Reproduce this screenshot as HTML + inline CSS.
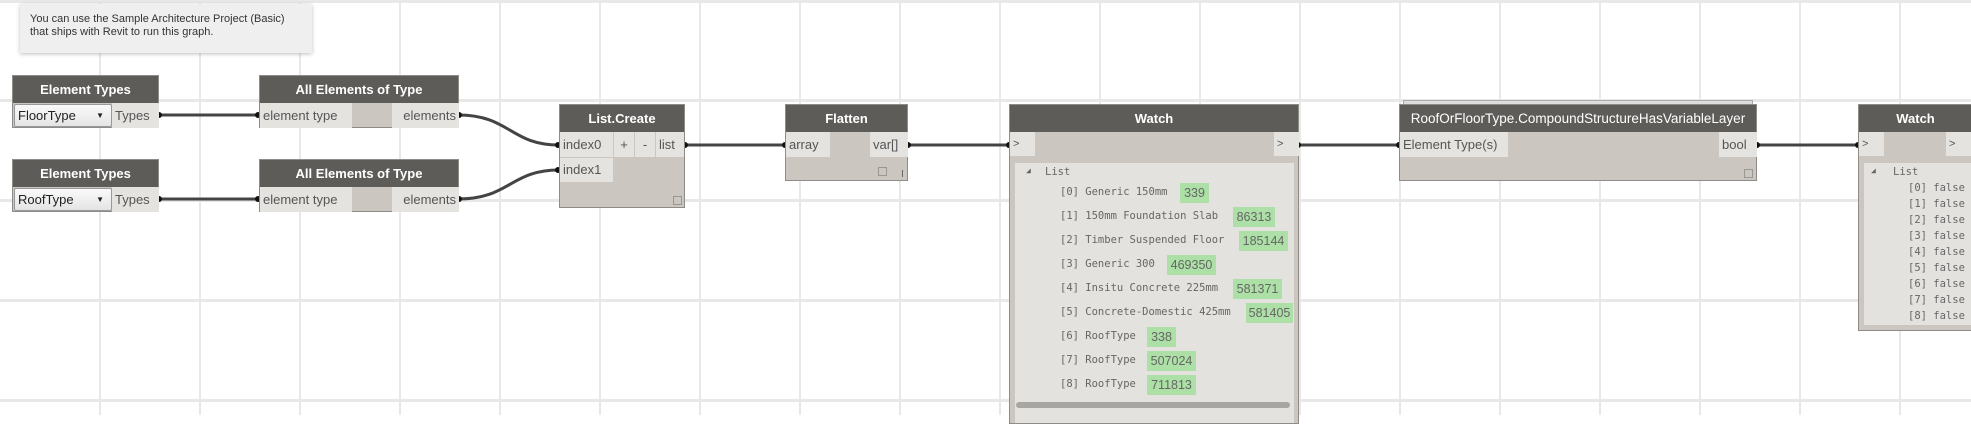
<!DOCTYPE html>
<html><head><meta charset="utf-8"><style>
*{margin:0;padding:0;box-sizing:border-box}
body{width:1971px;height:415px;overflow:hidden;background:#fff;position:relative;font-family:"Liberation Sans",sans-serif}
.a{position:absolute}
.vl{position:absolute;top:0;width:2px;height:415px;background:#e8e8e8}
.hl{position:absolute;left:0;height:3px;width:1971px;background:#e8e8e8}
.node{position:absolute;background:#cbc7c0;border:1px solid #8f8c88}
.hd{position:absolute;left:0;right:0;top:0;height:27px;background:#5e5c59;color:#fff;font-weight:bold;font-size:13px;line-height:27px;text-align:center;white-space:nowrap}
.p{position:absolute;background:#e5e3df;color:#555;font-size:13px;line-height:25px;padding:0 3px;white-space:nowrap}
.mono{font-family:"DejaVu Sans Mono","Liberation Mono",monospace;font-size:10.5px;color:#666;position:absolute;white-space:pre}
.g{position:absolute;background:#ade0a6;color:#666;font-size:12.5px;height:20px;line-height:20px;text-align:center}
.sq{position:absolute;width:9px;height:9px;border:1px solid #9a9792}
</style></head><body>
<div class="vl" style="left:99px"></div><div class="vl" style="left:199px"></div><div class="vl" style="left:299px"></div><div class="vl" style="left:399px"></div><div class="vl" style="left:499px"></div><div class="vl" style="left:599px"></div><div class="vl" style="left:699px"></div><div class="vl" style="left:799px"></div><div class="vl" style="left:899px"></div><div class="vl" style="left:999px"></div><div class="vl" style="left:1099px"></div><div class="vl" style="left:1199px"></div><div class="vl" style="left:1299px"></div><div class="vl" style="left:1399px"></div><div class="vl" style="left:1499px"></div><div class="vl" style="left:1599px"></div><div class="vl" style="left:1699px"></div><div class="vl" style="left:1799px"></div><div class="vl" style="left:1899px"></div>
<div class="hl" style="top:0px"></div><div class="hl" style="top:99px"></div><div class="hl" style="top:199px"></div><div class="hl" style="top:299px"></div><div class="hl" style="top:399px"></div>

<div class="a" style="left:20px;top:4px;width:292px;height:49px;background:#efefef;box-shadow:0 1px 4px rgba(0,0,0,.25);font-size:11px;color:#333;padding:9px 10px;line-height:13px">You can use the Sample Architecture Project (Basic)<br>that ships with Revit to run this graph.</div>

<svg class="a" style="left:0;top:0" width="1971" height="415">
<g stroke="#444" stroke-width="3" fill="none">
<path d="M158 115 L259 115"/><path d="M158 199 L259 199"/>
<path d="M458 115 C510 115 510 145 559 145"/>
<path d="M458 199 C510 199 510 170 559 170"/>
<path d="M684 145 L786 145"/><path d="M908 145 L1009 145"/>
<path d="M1298 145 L1399 145"/><path d="M1757 145 L1858 145"/>
</g>
<g fill="#111">
<circle cx="159" cy="115" r="3"/><circle cx="258" cy="115" r="3"/><circle cx="159" cy="199" r="3"/><circle cx="258" cy="199" r="3"/>
<circle cx="459" cy="115" r="3"/><circle cx="459" cy="199" r="3"/><circle cx="558" cy="145" r="3"/><circle cx="558" cy="170" r="3"/>
<circle cx="685" cy="145" r="3"/><circle cx="785" cy="145" r="3"/><circle cx="908" cy="145" r="3"/><circle cx="1009" cy="145" r="3"/>
<circle cx="1298" cy="145" r="3"/><circle cx="1399" cy="145" r="3"/><circle cx="1757" cy="145" r="3"/><circle cx="1858" cy="145" r="3"/>
</g></svg>

<!-- Element Types 1 -->
<div class="node" style="left:12px;top:75px;width:147px;height:53px"><div class="hd">Element Types</div>
<div class="a" style="left:1px;top:28px;width:98px;height:23px;background:linear-gradient(#fafafa,#e4e4e4);border:1px solid #999;border-radius:2px;font-size:13px;line-height:21px;padding-left:3px;color:#222">FloorType<span style="position:absolute;right:7px;font-size:8px">▼</span></div>
<div class="p" style="left:99px;top:27px;width:47px">Types</div></div>
<div class="node" style="left:12px;top:159px;width:147px;height:53px"><div class="hd">Element Types</div>
<div class="a" style="left:1px;top:28px;width:98px;height:23px;background:linear-gradient(#fafafa,#e4e4e4);border:1px solid #999;border-radius:2px;font-size:13px;line-height:21px;padding-left:3px;color:#222">RoofType<span style="position:absolute;right:7px;font-size:8px">▼</span></div>
<div class="p" style="left:99px;top:27px;width:47px">Types</div></div>

<!-- All Elements -->
<div class="node" style="left:259px;top:75px;width:200px;height:53px"><div class="hd">All Elements of Type</div>
<div class="p" style="left:0;top:27px;width:92px">element type</div><div class="p" style="left:132px;top:27px;width:67px;text-align:right">elements</div></div>
<div class="node" style="left:259px;top:159px;width:200px;height:53px"><div class="hd">All Elements of Type</div>
<div class="p" style="left:0;top:27px;width:92px">element type</div><div class="p" style="left:132px;top:27px;width:67px;text-align:right">elements</div></div>

<!-- List.Create -->
<div class="node" style="left:559px;top:104px;width:126px;height:104px"><div class="hd">List.Create</div>
<div class="p" style="left:0;top:27px;width:53px">index0</div>
<div class="p" style="left:54px;top:27px;width:20px;text-align:center;padding:0">+</div>
<div class="p" style="left:75px;top:27px;width:20px;text-align:center;padding:0">-</div>
<div class="p" style="left:96px;top:27px;width:28px">list</div>
<div class="p" style="left:0;top:53px;width:53px;line-height:24px">index1</div>
<div class="sq" style="left:113px;top:91px"></div></div>

<!-- Flatten -->
<div class="node" style="left:785px;top:104px;width:123px;height:77px"><div class="hd">Flatten</div>
<div class="p" style="left:0;top:27px;width:44px">array</div><div class="p" style="left:84px;top:27px;width:38px">var[]</div>
<div class="sq" style="left:92px;top:62px"></div><div class="a" style="left:116px;top:65px;width:1px;height:7px;background:#666"></div></div>

<!-- Watch 1 -->
<div class="node" style="left:1009px;top:104px;width:290px;height:320px"><div class="hd">Watch</div>
<div class="p" style="left:0;top:27px;width:25px;height:24px;font-size:11px;line-height:24px">&gt;</div>
<div class="p" style="left:264px;top:27px;width:25px;height:24px;font-size:11px;line-height:24px">&gt;</div>
<div class="a" style="left:5px;top:58px;width:279px;height:260px;background:#e3e2de"></div>
<div class="mono" style="left:16px;top:61px;font-size:8px">◢</div>
<div class="mono" style="left:35px;top:61px">List</div>
<div class="mono" style="left:50px;top:81px">[0] Generic 150mm</div><div class="g" style="left:170px;top:78px;width:29px">339</div>
<div class="mono" style="left:50px;top:105px">[1] 150mm Foundation Slab</div><div class="g" style="left:223px;top:102px;width:42px">86313</div>
<div class="mono" style="left:50px;top:129px">[2] Timber Suspended Floor</div><div class="g" style="left:229px;top:126px;width:49px">185144</div>
<div class="mono" style="left:50px;top:153px">[3] Generic 300</div><div class="g" style="left:157px;top:150px;width:49px">469350</div>
<div class="mono" style="left:50px;top:177px">[4] Insitu Concrete 225mm</div><div class="g" style="left:223px;top:174px;width:49px">581371</div>
<div class="mono" style="left:50px;top:201px">[5] Concrete-Domestic 425mm</div><div class="g" style="left:236px;top:198px;width:47px">581405</div>
<div class="mono" style="left:50px;top:225px">[6] RoofType</div><div class="g" style="left:137px;top:222px;width:29px">338</div>
<div class="mono" style="left:50px;top:249px">[7] RoofType</div><div class="g" style="left:137px;top:246px;width:49px">507024</div>
<div class="mono" style="left:50px;top:273px">[8] RoofType</div><div class="g" style="left:137px;top:270px;width:49px">711813</div>
<div class="a" style="left:6px;top:297px;width:274px;height:6px;background:#a8a6a2;border-radius:3px"></div></div>

<!-- RoofOrFloor -->
<div class="a" style="left:1403px;top:100px;width:350px;height:10px;border:1px solid #aaa;background:#ddd"></div>
<div class="node" style="left:1399px;top:104px;width:358px;height:77px"><div class="hd" style="font-weight:normal;font-size:13.5px">RoofOrFloorType.CompoundStructureHasVariableLayer</div>
<div class="p" style="left:0;top:27px;width:108px">Element Type(s)</div><div class="p" style="left:319px;top:27px;width:38px">bool</div>
<div class="sq" style="left:344px;top:64px"></div></div>

<!-- Watch 2 -->
<div class="node" style="left:1858px;top:104px;width:120px;height:227px"><div class="hd" style="width:113px">Watch</div>
<div class="p" style="left:0;top:27px;width:25px;height:24px;font-size:11px;line-height:24px">&gt;</div>
<div class="p" style="left:87px;top:27px;width:26px;height:24px;font-size:11px;line-height:24px">&gt;</div>
<div class="a" style="left:5px;top:58px;width:110px;height:162px;background:#e3e2de"></div>
<div class="mono" style="left:12px;top:61px;font-size:8px">◢</div>
<div class="mono" style="left:34px;top:61px">List</div>
<div class="mono" style="left:49px;top:77px">[0] false</div><div class="mono" style="left:49px;top:93px">[1] false</div><div class="mono" style="left:49px;top:109px">[2] false</div><div class="mono" style="left:49px;top:125px">[3] false</div><div class="mono" style="left:49px;top:141px">[4] false</div><div class="mono" style="left:49px;top:157px">[5] false</div><div class="mono" style="left:49px;top:173px">[6] false</div><div class="mono" style="left:49px;top:189px">[7] false</div><div class="mono" style="left:49px;top:205px">[8] false</div></div>
</body></html>
